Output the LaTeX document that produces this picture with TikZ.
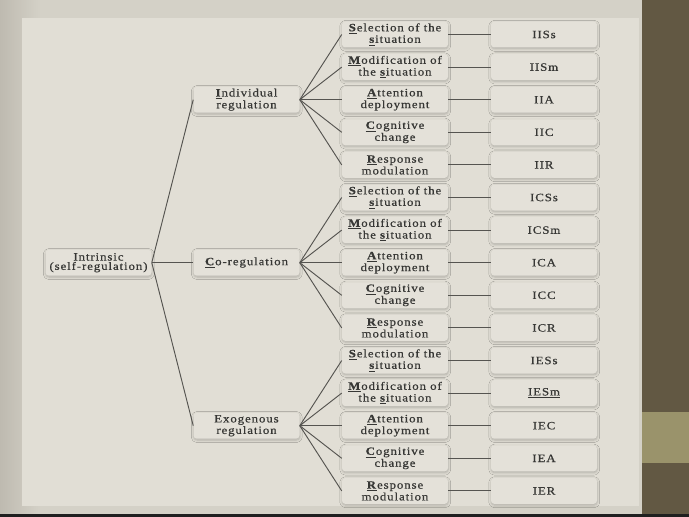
\documentclass[tikz,border=0pt]{standalone}
\usepackage{fontspec}
\setmainfont{Liberation Serif}
\newfontfamily\diagfont{Liberation Serif}[LetterSpace=8,FakeStretch=1.15,FakeBold=0.6]
\usetikzlibrary{shadows.blur}

\definecolor{slidebg}{RGB}{212,209,199}
\definecolor{slideedge}{RGB}{190,186,176}
\definecolor{panelbg}{RGB}{225,222,213}
\definecolor{boxbg}{RGB}{228,225,217}
\definecolor{stripdark}{RGB}{98,88,67}
\definecolor{stripolive}{RGB}{154,147,107}
\definecolor{inkgray}{RGB}{55,55,53}
\definecolor{linegray}{RGB}{85,84,80}

\newcommand{\firstl}[1]{\underline{\textbf{#1}}}

\tikzset{
  regbox/.style={rounded corners=2.5pt, fill=boxbg, text=inkgray, align=center,
    inner sep=0pt, minimum width=79.5pt, minimum height=19.5pt,
    font=\diagfont\fontsize{8.4}{7}\selectfont,
    blur shadow={shadow xshift=0.2pt, shadow yshift=-1pt, shadow blur steps=5, shadow opacity=22}},
  conn/.style={draw=linegray, line width=0.7pt}
}

\begin{document}
\begin{tikzpicture}[x=0.75pt,y=0.75pt,yscale=-1,xscale=1]
\useasboundingbox (0,0) rectangle (689,517);

%Slide background
\fill[slidebg] (0,0) rectangle (689,517);
\shade[left color=slideedge, right color=slidebg] (0,0) rectangle (40,517);
%Shape: Panel
\fill[panelbg] (22,18) rectangle (639,506);
%Shape: Right strip
\fill[stripdark] (642,0) rectangle (689,515);
\fill[stripolive] (642,412) rectangle (689,463);
%Shape: Bottom band
\fill[black!88] (0,514) rectangle (689,517);

% Root and second level
\node[regbox] (root) at (98.5,262.7) {Intrinsic\\(self-regulation)};
\node[regbox] (ind) at (246.5,99.7) {\firstl{I}ndividual\\regulation};
\node[regbox] (co) at (246.5,262.7) {\firstl{C}o-regulation};
\node[regbox] (exo) at (246.5,425.7) {Exogenous\\regulation};

% Individual regulation
\node[regbox] (indsel) at (395,34.5) {\firstl{S}election of the\\\firstl{s}ituation};
\node[regbox] (indmod) at (395,67.1) {\firstl{M}odification of\\the \firstl{s}ituation};
\node[regbox] (indatt) at (395,99.7) {\firstl{A}ttention\\deployment};
\node[regbox] (indcog) at (395,132.3) {\firstl{C}ognitive\\change};
\node[regbox] (indres) at (395,164.9) {\firstl{R}esponse\\modulation};

% Co-regulation
\node[regbox] (cosel) at (395,197.5) {\firstl{S}election of the\\\firstl{s}ituation};
\node[regbox] (comod) at (395,230.1) {\firstl{M}odification of\\the \firstl{s}ituation};
\node[regbox] (coatt) at (395,262.7) {\firstl{A}ttention\\deployment};
\node[regbox] (cocog) at (395,295.3) {\firstl{C}ognitive\\change};
\node[regbox] (cores) at (395,327.9) {\firstl{R}esponse\\modulation};

% Exogenous regulation
\node[regbox] (exosel) at (395,360.5) {\firstl{S}election of the\\\firstl{s}ituation};
\node[regbox] (exomod) at (395,393.1) {\firstl{M}odification of\\the \firstl{s}ituation};
\node[regbox] (exoatt) at (395,425.7) {\firstl{A}ttention\\deployment};
\node[regbox] (exocog) at (395,458.3) {\firstl{C}ognitive\\change};
\node[regbox] (exores) at (395,490.9) {\firstl{R}esponse\\modulation};

% Codes
\node[regbox] (iiss) at (544,34.5) {IISs};
\node[regbox] (iism) at (544,67.1) {IISm};
\node[regbox] (iia) at (544,99.7) {IIA};
\node[regbox] (iic) at (544,132.3) {IIC};
\node[regbox] (iir) at (544,164.9) {IIR};
\node[regbox] (icss) at (544,197.5) {ICSs};
\node[regbox] (icsm) at (544,230.1) {ICSm};
\node[regbox] (ica) at (544,262.7) {ICA};
\node[regbox] (icc) at (544,295.3) {ICC};
\node[regbox] (icr) at (544,327.9) {ICR};
\node[regbox] (iess) at (544,360.5) {IESs};
\node[regbox] (iesm) at (544,393.1) {\underline{IESm}};
\node[regbox] (iec) at (544,425.7) {IEC};
\node[regbox] (iea) at (544,458.3) {IEA};
\node[regbox] (ier) at (544,490.9) {IER};

%Straight Lines: root
\draw[conn] (root.east) -- (ind.west);
\draw[conn] (root.east) -- (co.west);
\draw[conn] (root.east) -- (exo.west);
%Straight Lines: individual
\draw[conn] (ind.east) -- (indsel.west);
\draw[conn] (ind.east) -- (indmod.west);
\draw[conn] (ind.east) -- (indatt.west);
\draw[conn] (ind.east) -- (indcog.west);
\draw[conn] (ind.east) -- (indres.west);
%Straight Lines: co
\draw[conn] (co.east) -- (cosel.west);
\draw[conn] (co.east) -- (comod.west);
\draw[conn] (co.east) -- (coatt.west);
\draw[conn] (co.east) -- (cocog.west);
\draw[conn] (co.east) -- (cores.west);
%Straight Lines: exogenous
\draw[conn] (exo.east) -- (exosel.west);
\draw[conn] (exo.east) -- (exomod.west);
\draw[conn] (exo.east) -- (exoatt.west);
\draw[conn] (exo.east) -- (exocog.west);
\draw[conn] (exo.east) -- (exores.west);
%Straight Lines: codes
\draw[conn] (indsel.east) -- (iiss.west);
\draw[conn] (indmod.east) -- (iism.west);
\draw[conn] (indatt.east) -- (iia.west);
\draw[conn] (indcog.east) -- (iic.west);
\draw[conn] (indres.east) -- (iir.west);
\draw[conn] (cosel.east) -- (icss.west);
\draw[conn] (comod.east) -- (icsm.west);
\draw[conn] (coatt.east) -- (ica.west);
\draw[conn] (cocog.east) -- (icc.west);
\draw[conn] (cores.east) -- (icr.west);
\draw[conn] (exosel.east) -- (iess.west);
\draw[conn] (exomod.east) -- (iesm.west);
\draw[conn] (exoatt.east) -- (iec.west);
\draw[conn] (exocog.east) -- (iea.west);
\draw[conn] (exores.east) -- (ier.west);

\end{tikzpicture}
\end{document}
